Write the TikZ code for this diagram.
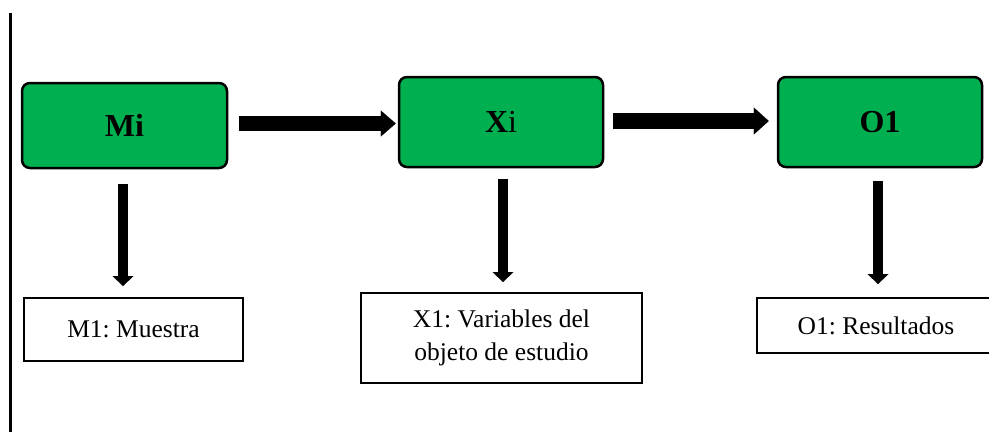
\documentclass[tikz,border=0pt]{standalone}
\usepackage{fontspec}
\setmainfont{Liberation Serif}
\usetikzlibrary{arrows.meta}
\definecolor{boxgreen}{HTML}{00B050}
\tikzset{
  stage/.style={draw=black, line width=2.5pt, fill=boxgreen, rounded corners=8pt,
    inner sep=0pt, font=\fontsize{32}{36}\selectfont\bfseries},
  note/.style={draw=black, line width=2pt, fill=white, inner sep=0pt, align=center,
    font=\fontsize{25.5}{33}\selectfont\frenchspacing},
  flowright/.style={line width=#1, -{Triangle[width=#1+11pt, length=15pt, line width=0.01pt]}},
  flowdown/.style={line width=9.5pt, -{Triangle[width=21pt, length=10pt, line width=0.01pt]}}
}
\begin{document}
\begin{tikzpicture}[x=1pt, y=-1pt]
\useasboundingbox (0,0) rectangle (989,432);
% left margin rule
\draw[line width=2.3pt] (10.5,13) -- (10.5,432);
% main stages
\node[stage, minimum width=205pt, minimum height=85pt] (mi) at (124.5,125.5) {Mi};
\node[stage, minimum width=204pt, minimum height=90pt] (xi) at (501,122) {X\textmd{i}};
\node[stage, minimum width=204pt, minimum height=90pt] (oi) at (880,122) {O1};
% descriptions
\node[note, minimum width=219pt, minimum height=63pt] (m1) at (133.5,329.5) {M1: Muestra};
\node[note, minimum width=281pt, minimum height=90pt] (x1) at (501.5,338) {X1: Variables del\\objeto de estudio};
\node[note, minimum width=238pt, minimum height=55pt] (o1) at (876,325.5) {O1: Resultados};
% horizontal flow
\draw[flowright=15pt, shorten <=11pt, shorten >=2pt]
  ([yshift=2pt]mi.east) -- ([yshift=2pt]mi.east -| xi.west);
\draw[flowright=16pt, shorten <=9pt, shorten >=8pt]
  ([yshift=1pt]xi.east) -- ([yshift=1pt]xi.east -| oi.west);
% downward links
\draw[flowdown, shorten <=15pt, shorten >=11pt]
  ([xshift=-1.5pt]mi.south) -- ([xshift=-1.5pt]mi.south |- m1.north);
\draw[flowdown, shorten <=11pt, shorten >=10pt]
  ([xshift=2pt]xi.south) -- ([xshift=2pt]xi.south |- x1.north);
\draw[flowdown, shorten <=13pt, shorten >=13pt]
  ([xshift=-2pt]oi.south) -- ([xshift=-2pt]oi.south |- o1.north);
\end{tikzpicture}
\end{document}
